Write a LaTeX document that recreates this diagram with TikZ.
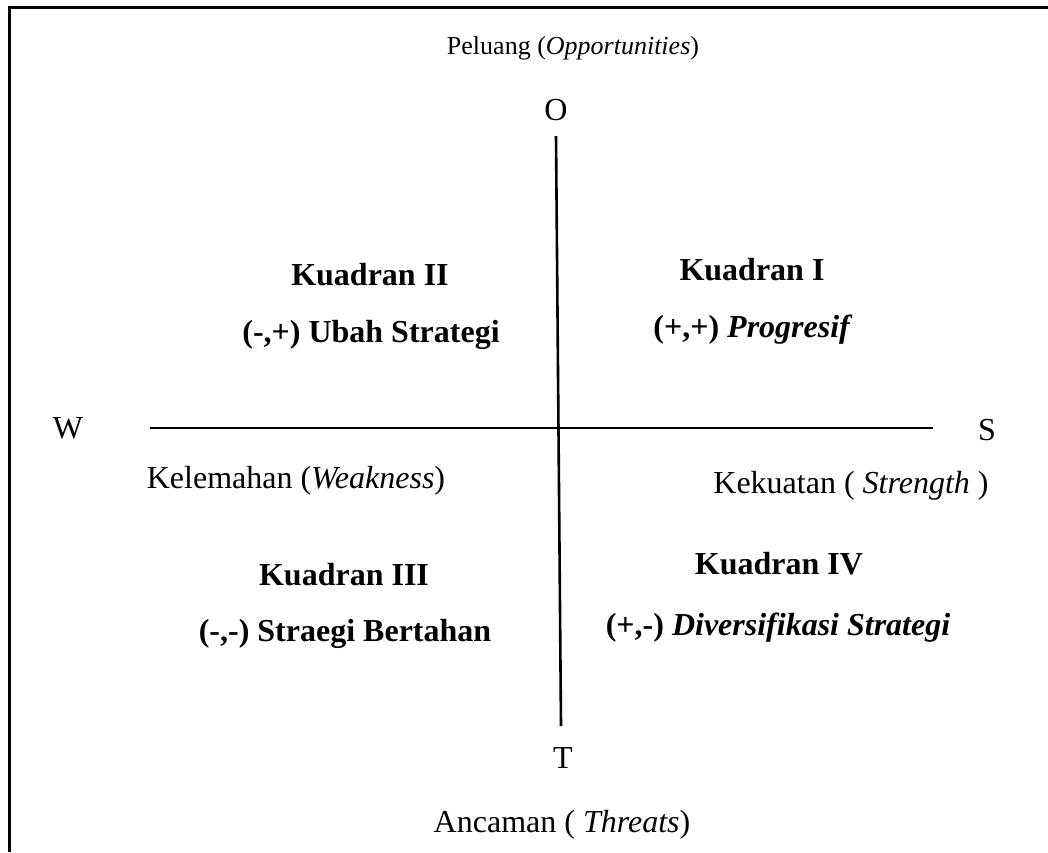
\documentclass[tikz,border=0pt]{standalone}
\usepackage{fontspec}
\setmainfont{Liberation Serif}
\begin{document}
\begin{tikzpicture}[x=1pt,y=-1pt,
  lbl/.style={font=\fontsize{32}{36}\selectfont, inner sep=0pt},
  small/.style={font=\fontsize{26}{30}\selectfont, inner sep=0pt},
  quad/.style={font=\fontsize{32}{36}\selectfont\bfseries, inner sep=0pt},
  axis/.style={line width=2.6pt}]
\useasboundingbox (0,0) rectangle (1048,852);
\draw[line width=3pt] (9.5,852) -- (9.5,7.5) -- (1048,7.5);
\node[small] (peluang) at (573,48) {Peluang (\textit{Opportunities})};
\node[lbl] (o) at (556,110) {O};
\node[lbl] (t) at (563,758) {T};
\node[lbl] (w) at (68,428) {W};
\node[lbl] (s) at (987,430) {S};
\node[lbl] (ancaman) at (562,825) {Ancaman ( \textit{Threats})};
\node[lbl] (kelemahan) at (296,481) {Kelemahan (\textit{Weakness})};
\node[lbl] (kekuatan) at (851,486) {Kekuatan ( \textit{Strength} )};
\coordinate (otop) at (556,136);
\coordinate (tbot) at (561,726);
\coordinate (wl) at (150,428);
\coordinate (sr) at (933,428);
\draw[axis] (otop) -- (tbot);
\draw[axis] (wl) -- (sr);
\node[quad] (k2) at (370,275) {Kuadran II};
\node[quad] (k2b) at (371,335) {(-,+) Ubah Strategi};
\node[quad] (k1) at (752,270) {Kuadran I};
\node[quad] (k1b) at (753,330) {(+,+) \textit{Progresif}};
\node[quad] (k3) at (344,575) {Kuadran III};
\node[quad] (k3b) at (345,634) {(-,-) Straegi Bertahan};
\node[quad] (k4) at (779,564) {Kuadran IV};
\node[quad] (k4b) at (778,628) {(+,-) \textit{Diversifikasi Strategi}};
\end{tikzpicture}
\end{document}
